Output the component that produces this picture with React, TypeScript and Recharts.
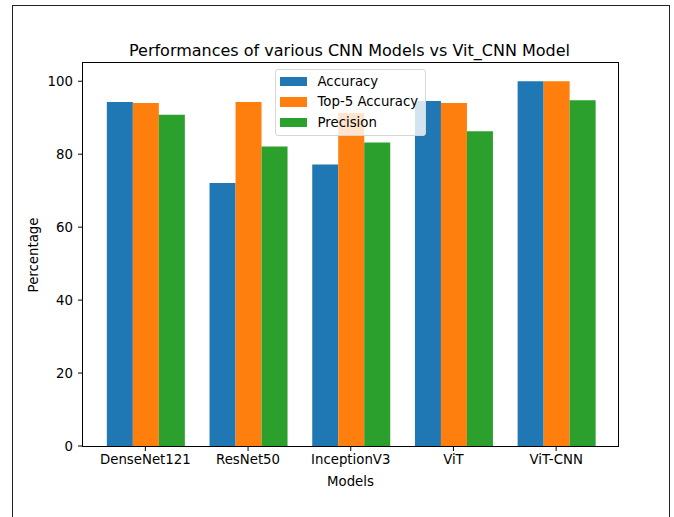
import { BarChart, Bar, XAxis, YAxis, Legend } from "recharts";

// Models on the x axis
const models = ["DenseNet121", "ResNet50", "InceptionV3", "ViT", "ViT-CNN"];

// Series names, in legend order
const seriesNames = ["Accuracy", "Top-5 Accuracy", "Precision"];

// Scores (percent)
const accuracy = [94.3, 72.1, 77.2, 94.6, 100];
const top5Accuracy = [94.0, 94.3, 91.3, 94.0, 100];
const precision = [90.8, 82.1, 83.2, 86.3, 94.8];

const yTicks = [0, 20, 40, 60, 80, 100];

const FONT = "'DejaVu Sans', Verdana, sans-serif";

// Recharts wants rows, so zip the arrays together
const chartData = models.map((name, i) => ({
  name,
  accuracy: accuracy[i],
  top5: top5Accuracy[i],
  precision: precision[i],
}));

function MplLegend(props: any) {
  const { payload = [] } = props;
  // recharts sorts legend items by name; put them back in plotting order
  const items = [...payload].sort(
    (a: any, b: any) => seriesNames.indexOf(a.value) - seriesNames.indexOf(b.value)
  );
  return (
    <div
      style={{
        background: "rgba(255,255,255,0.8)",
        border: "1px solid #d6d6d6",
        borderRadius: 3,
        padding: "1px 4px 0 4px",
        boxSizing: "border-box",
        width: 151,
        height: 67,
        fontFamily: FONT,
        fontSize: 13.3,
        color: "#000",
      }}
    >
      {items.map((entry: any) => (
        <div
          key={entry.value}
          style={{ display: "flex", alignItems: "center", height: 20.5 }}
        >
          <span
            style={{
              display: "inline-block",
              width: 27,
              height: 9.5,
              background: entry.color,
              marginRight: 10.5,
            }}
          />
          <span>{entry.value}</span>
        </div>
      ))}
    </div>
  );
}

export default function App() {
  const tickStyle = { fontFamily: FONT, fontSize: 13.3, fill: "#000" };

  return (
    <div
      style={{
        position: "absolute",
        left: 0,
        top: 0,
        width: 674,
        height: 517,
        background: "#fff",
        overflow: "hidden",
      }}
    >
      {/* outer figure frame */}
      <div
        style={{
          position: "absolute",
          left: 12,
          top: 5,
          width: 658,
          height: 530,
          border: "1px solid #222",
          boxSizing: "border-box",
        }}
      />

      <BarChart
        width={674}
        height={517}
        data={chartData}
        margin={{ top: 63, right: 55.5, bottom: 41, left: 33 }}
        barCategoryGap="12.5%"
        barGap={0}
      >
        <XAxis
          dataKey="name"
          padding={{ left: 11, right: 11 }}
          axisLine={false}
          tickLine={{ stroke: "#000" }}
          tickSize={5}
          tickMargin={4}
          height={30}
          tick={tickStyle}
          interval={0}
        />
        <YAxis
          domain={[0, 105]}
          ticks={yTicks}
          axisLine={false}
          tickLine={{ stroke: "#000" }}
          tickSize={5}
          tickMargin={5}
          width={50}
          tick={tickStyle}
        />
        <Legend
          layout="horizontal"
          align="center"
          verticalAlign="middle"
          content={<MplLegend />}
          wrapperStyle={{ left: 275, top: 69, width: 151, height: 67 }}
        />
        <Bar dataKey="accuracy" name={seriesNames[0]} fill="#1f77b4" isAnimationActive={false} />
        <Bar dataKey="top5" name={seriesNames[1]} fill="#ff7f0e" isAnimationActive={false} />
        <Bar dataKey="precision" name={seriesNames[2]} fill="#2ca02c" isAnimationActive={false} />
      </BarChart>

      {/* axes box (all four spines, like matplotlib) */}
      <div
        style={{
          position: "absolute",
          left: 82,
          top: 62,
          width: 537,
          height: 385,
          border: "1px solid #000",
          boxSizing: "border-box",
          pointerEvents: "none",
        }}
      />

      {/* title and axis labels */}
      <svg
        width={674}
        height={517}
        style={{ position: "absolute", left: 0, top: 0, pointerEvents: "none" }}
      >
        <text
          x={349.5}
          y={56}
          textAnchor="middle"
          fontFamily={FONT}
          fontSize={16}
          fill="#000"
        >
          Performances of various CNN Models vs Vit_CNN Model
        </text>
        <text
          x={350.5}
          y={486}
          textAnchor="middle"
          fontFamily={FONT}
          fontSize={13.3}
          fill="#000"
        >
          Models
        </text>
        <text
          x={38}
          y={255}
          textAnchor="middle"
          fontFamily={FONT}
          fontSize={13.3}
          fill="#000"
          transform="rotate(-90 38 255)"
        >
          Percentage
        </text>
      </svg>
    </div>
  );
}
